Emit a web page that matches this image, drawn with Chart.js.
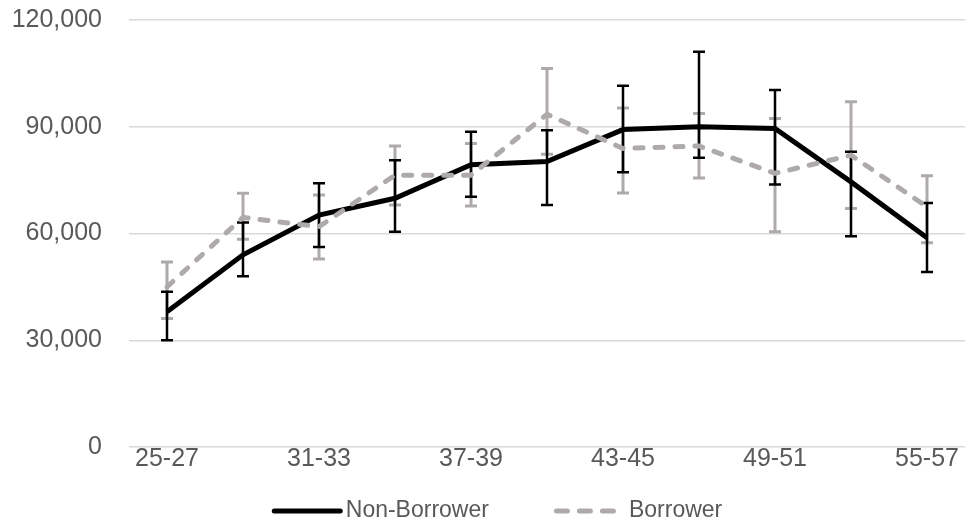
<!DOCTYPE html>
<html>
<head>
<meta charset="utf-8">
<script src="https://cdn.jsdelivr.net/npm/chart.js@4/dist/chart.umd.min.js"></script>
<style>
  html, body { margin: 0; padding: 0; background: #fff; }
  #wrap { width: 968px; height: 529px; }
</style>
</head>
<body>
<div id="wrap"><canvas id="chartIncome"></canvas></div>
<script>
const ageGroups = ['25-27', '28-30', '31-33', '34-36', '37-39', '40-42', '43-45', '46-48', '49-51', '52-54', '55-57'];

const nonBorrower = [38000, 54000, 65200, 69900, 79300, 80200, 89200, 90000, 89500, 74500, 58800];
const nonBorrowerLow = [30000, 48000, 56200, 60500, 70300, 68000, 77200, 81300, 73800, 59200, 49200];
const nonBorrowerHigh = [43600, 63100, 74100, 80600, 88600, 89000, 101500, 111100, 100300, 83000, 68600];

const borrower = [45000, 64500, 61900, 76400, 76400, 93500, 83900, 84600, 76900, 82000, 67500];
const borrowerLow = [36100, 58400, 52800, 68000, 67700, 82300, 71400, 75600, 60500, 67000, 57400];
const borrowerHigh = [52000, 71300, 70800, 84600, 85300, 106400, 95300, 93700, 92300, 97000, 76200];

const yTicks = [0, 30000, 60000, 90000, 120000];

const grey = '#AEAAAA';
const textColor = '#595959';
const fontFamily = '"Liberation Sans", Arial, sans-serif';
const fontSize = 25;

// error bars drawn under the lines, grey first then black
const errorBars = {
  id: 'errorBars',
  beforeDatasetsDraw(chart) {
    const ctx = chart.ctx;
    const yScale = chart.scales.y;
    [1, 0].forEach((di) => {
      const ds = chart.data.datasets[di];
      const meta = chart.getDatasetMeta(di);
      ctx.save();
      ctx.strokeStyle = ds.borderColor;
      ctx.lineWidth = ds.errWidth;
      meta.data.forEach((pt, i) => {
        const top = yScale.getPixelForValue(ds.high[i]);
        const bot = yScale.getPixelForValue(ds.low[i]);
        ctx.beginPath();
        ctx.moveTo(pt.x, top);
        ctx.lineTo(pt.x, bot);
        ctx.moveTo(pt.x - 6, top);
        ctx.lineTo(pt.x + 6, top);
        ctx.moveTo(pt.x - 6, bot);
        ctx.lineTo(pt.x + 6, bot);
        ctx.stroke();
      });
      ctx.restore();
    });
  }
};

// excel style legend: line sample then name, wide gap between entries
const lineLegend = {
  id: 'lineLegend',
  afterDraw(chart) {
    const ctx = chart.ctx;
    const sample = [71, 63];
    const textGap = [3, 12];
    const itemGap = 65;
    const cy = 511;
    ctx.save();
    ctx.font = '23px ' + fontFamily;
    const widths = chart.data.datasets.map((ds, i) => sample[i] + textGap[i] + ctx.measureText(ds.label).width);
    const total = widths[0] + itemGap + widths[1];
    let x = 497 - total / 2;
    chart.data.datasets.forEach((ds, i) => {
      ctx.strokeStyle = ds.borderColor;
      ctx.lineWidth = 5;
      ctx.lineCap = 'round';
      ctx.setLineDash(ds.borderDash ? [11, 12] : []);
      ctx.beginPath();
      ctx.moveTo(x + 2.5, cy);
      ctx.lineTo(x + sample[i] - 2.5, cy);
      ctx.stroke();
      ctx.setLineDash([]);
      ctx.fillStyle = textColor;
      ctx.textBaseline = 'middle';
      ctx.textAlign = 'left';
      ctx.fillText(ds.label, x + sample[i] + textGap[i], cy);
      x += widths[i] + itemGap;
    });
    ctx.restore();
  }
};

const chartIncome = new Chart(document.getElementById('chartIncome'), {
  type: 'line',
  data: {
    labels: ageGroups,
    datasets: [{
      label: 'Non-Borrower',
      data: nonBorrower,
      low: nonBorrowerLow,
      high: nonBorrowerHigh,
      borderColor: '#000000',
      backgroundColor: '#000000',
      borderWidth: 5,
      errWidth: 2.5,
      pointRadius: 0,
      tension: 0,
      order: 1
    }, {
      label: 'Borrower',
      data: borrower,
      low: borrowerLow,
      high: borrowerHigh,
      borderColor: grey,
      backgroundColor: grey,
      borderWidth: 5,
      borderDash: [8, 12],
      borderCapStyle: 'round',
      errWidth: 3,
      pointRadius: 0,
      tension: 0,
      order: 0
    }]
  },
  options: {
    responsive: true,
    maintainAspectRatio: false,
    animation: false,
    layout: {
      padding: { top: 20, right: 3, left: 0, bottom: 0 }
    },
    scales: {
      x: {
        offset: true,
        grid: { display: false, drawTicks: false },
        border: { display: false },
        ticks: {
          autoSkip: false,
          maxRotation: 0,
          padding: -3,
          color: textColor,
          font: { family: fontFamily, size: fontSize },
          callback: (v, i) => (i % 2 === 0 ? ageGroups[i] : '')
        },
        afterFit: (scale) => { scale.height = 82; }
      },
      y: {
        min: 0,
        max: 120000,
        afterBuildTicks: (scale) => { scale.ticks = yTicks.map((v) => ({ value: v })); },
        grid: { color: '#D9D9D9', lineWidth: 1.5, drawTicks: false },
        border: { display: false },
        ticks: {
          padding: 27,
          color: textColor,
          font: { family: fontFamily, size: fontSize },
          callback: (v) => v.toLocaleString('en-US')
        },
        afterFit: (scale) => {
          // tick padding would otherwise push the plot down
          scale.width = 129;
          scale.paddingTop = 0;
          scale.paddingBottom = 0;
        }
      }
    },
    plugins: {
      legend: { display: false },
      tooltip: { enabled: false }
    }
  },
  plugins: [errorBars, lineLegend]
});
</script>
</body>
</html>
